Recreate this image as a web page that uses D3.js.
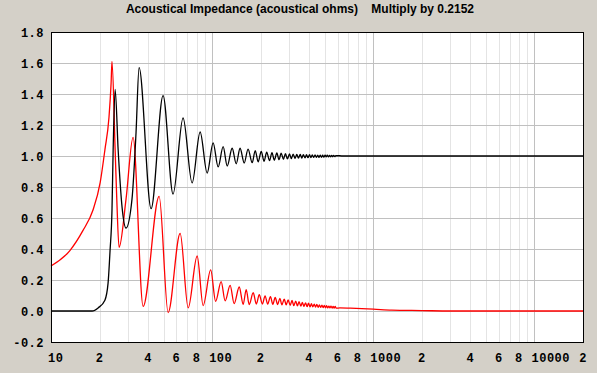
<!DOCTYPE html>
<html>
<head>
<meta charset="utf-8">
<script src="https://cdn.jsdelivr.net/npm/d3@7"></script>
<style>
  body { margin: 0; background: #d4d0c8; }
  svg { display: block; }
</style>
</head>
<body>
<div class="canvas"></div>
<script>
const title = 'Acoustical Impedance (acoustical ohms)    Multiply by 0.2152';

// [frequency Hz, value]
const resistance = [
  [10, 0], [15, 0], [18, 0], [19.6, 0.02], [21.6, 0.07], [22.6, 0.18], [23.25, 0.39],
  [23.9, 0.65], [24.3, 1.04], [25.0, 1.43], [26.1, 1.04], [27.6, 0.67], [29.2, 0.535],
  [31.8, 0.72], [33.7, 1.15], [35.2, 1.57], [41.8, 0.66], [49.6, 1.39], [57.2, 0.755],
  [66.0, 1.245], [75.1, 0.826], [84.2, 1.155], [93.1, 0.89], [101.4, 1.085], [108.9, 0.93],
  [117, 1.06], [124, 0.935], [133.1, 1.05], [141, 0.95], [149, 1.05], [158.1, 0.955],
  [167, 1.045], [177.2, 0.957], [185, 1.035], [193, 0.962], [201.5, 1.03], [210, 0.966],
  [218, 1.025], [227, 0.97], [235, 1.022], [243, 0.973], [252, 1.02], [260, 0.976],
  [268, 1.018], [277, 0.979], [285, 1.015], [293, 0.981], [302, 1.013], [310, 0.983],
  [318, 1.012], [327, 0.985], [335, 1.011], [343, 0.986], [352, 1.01], [360, 0.987],
  [368, 1.009], [377, 0.988], [385, 1.008], [393, 0.989], [402, 1.008], [410, 0.99],
  [418, 1.007], [427, 0.991], [435, 1.007], [443, 0.991], [452, 1.006], [460, 0.992],
  [468, 1.006], [477, 0.992], [485, 1.005], [493, 0.993], [502, 1.005], [510, 0.994],
  [518, 1.005], [527, 0.994], [535, 1.004], [543, 0.995], [552, 1.004], [560, 0.995],
  [568, 1.004], [577, 0.996], [585, 1.003], [650, 1.0], [1000, 1.0], [20000, 1.0]
];

const reactance = [
  [10, 0.29], [13.1, 0.39], [15.8, 0.52], [18.2, 0.65], [20.2, 0.83], [21.6, 1.04],
  [22.9, 1.25], [23.6, 1.47], [23.9, 1.61], [25.0, 1.04], [25.6, 0.72], [26.45, 0.41],
  [29.2, 0.72], [32.3, 1.12], [37.3, 0.03], [46.9, 0.74], [53.3, -0.01], [63.3, 0.5],
  [71.0, 0.02], [80.7, 0.355], [87.9, 0.035], [97.9, 0.265], [105.1, 0.062], [113.7, 0.19],
  [120.4, 0.065], [129.3, 0.165], [136.9, 0.048], [147.2, 0.155], [155.8, 0.043],
  [162.6, 0.138], [169.8, 0.042], [179.8, 0.118], [188, 0.045], [196, 0.105], [205, 0.045],
  [213, 0.098], [221, 0.044], [230, 0.092], [238, 0.043], [246, 0.087], [255, 0.042],
  [263, 0.082], [271, 0.04], [280, 0.077], [288, 0.039], [296, 0.072], [305, 0.037],
  [313, 0.068], [321, 0.035], [330, 0.064], [338, 0.033], [346, 0.06], [355, 0.031],
  [363, 0.056], [371, 0.03], [380, 0.053], [388, 0.028], [396, 0.05], [405, 0.027],
  [413, 0.047], [421, 0.026], [430, 0.044], [438, 0.025], [446, 0.042], [455, 0.024],
  [463, 0.04], [471, 0.023], [480, 0.038], [488, 0.022], [496, 0.036], [505, 0.021],
  [513, 0.034], [521, 0.02], [530, 0.032], [538, 0.02], [546, 0.031], [555, 0.019],
  [563, 0.03], [571, 0.018], [580, 0.029], [588, 0.018], [620, 0.02], [720, 0.018],
  [1000, 0.012], [1300, 0.006], [2000, 0.003], [3000, 0], [20000, 0]
];

const yTicks = [-0.2, 0, 0.2, 0.4, 0.6, 0.8, 1.0, 1.2, 1.4, 1.6, 1.8];
const xTicks = [10, 20, 40, 60, 80, 100, 200, 400, 600, 800, 1000, 2000, 4000, 6000, 8000, 10000, 20000];
const xTickLabels = ['10', '2', '4', '6', '8', '100', '2', '4', '6', '8', '1000', '2', '4', '6', '8', '10000', '2'];

const width = 597, height = 373;
const plot = { left: 51, right: 583, top: 32, bottom: 342 };

const svg = d3.select('.canvas')
  .append('svg')
  .attr('width', width)
  .attr('height', height);

const x = d3.scaleLog().domain([10, 20000]).range([plot.left, plot.right]);
const y = d3.scaleLinear().domain([-0.2, 1.8]).range([plot.bottom, plot.top]);

svg.append('rect')
  .attr('x', plot.left).attr('y', plot.top)
  .attr('width', plot.right - plot.left).attr('height', plot.bottom - plot.top)
  .attr('fill', '#fff');

// vertical grid: every 1..9 of each decade
const minor = [];
for (let d = 10; d < 20000; d *= 10) {
  for (let k = 1; k < 10; k++) if (d * k <= 20000) minor.push(d * k);
}
svg.append('g').selectAll('line')
  .data(minor)
  .enter().append('line')
    .attr('x1', d => Math.round(x(d)) + 0.5).attr('x2', d => Math.round(x(d)) + 0.5)
    .attr('y1', plot.top).attr('y2', plot.bottom)
    .attr('stroke', d => (Math.log10(d) % 1 === 0) ? '#c0c0c0' : '#e4e4e4')
    .attr('stroke-width', 1);

// horizontal grid
svg.append('g').selectAll('line')
  .data(yTicks)
  .enter().append('line')
    .attr('x1', plot.left).attr('x2', plot.right)
    .attr('y1', d => Math.round(y(d)) + 0.5).attr('y2', d => Math.round(y(d)) + 0.5)
    .attr('stroke', '#c0c0c0');

// curves
const line = d3.line()
  .x(d => x(d[0]))
  .y(d => y(d[1]))
  .curve(d3.curveMonotoneX);

svg.append('path')
  .datum(reactance)
  .attr('d', line)
  .attr('fill', 'none')
  .attr('stroke', '#ff0000')
  .attr('stroke-width', 1.3);

svg.append('path')
  .datum(resistance)
  .attr('d', line)
  .attr('fill', 'none')
  .attr('stroke', '#000')
  .attr('stroke-width', 1.3);

// frame
svg.append('rect')
  .attr('x', plot.left + 0.5).attr('y', plot.top + 0.5)
  .attr('width', plot.right - plot.left).attr('height', plot.bottom - plot.top)
  .attr('fill', 'none')
  .attr('stroke', '#000');

// axis labels
const labelFont = "'Liberation Mono', 'DejaVu Sans Mono', monospace";

svg.append('g').selectAll('text')
  .data(yTicks)
  .enter().append('text')
    .attr('x', 44)
    .attr('y', d => y(d) + 4.5)
    .attr('text-anchor', 'end')
    .attr('font-family', labelFont)
    .attr('font-weight', 'bold')
    .attr('font-size', 12)
    .attr('letter-spacing', 0.5)
    .text(d => d.toFixed(1));

svg.append('g').selectAll('text')
  .data(xTicks)
  .enter().append('text')
    .attr('x', (d, i) => xTickLabels[i].length > 1 ? x(d) - 3 : x(d))
    .attr('y', 362)
    .attr('text-anchor', (d, i) => xTickLabels[i].length > 1 ? 'start' : 'middle')
    .attr('font-family', labelFont)
    .attr('font-weight', 'bold')
    .attr('font-size', 12)
    .attr('letter-spacing', 0.5)
    .text((d, i) => xTickLabels[i]);

svg.append('text')
  .attr('x', 300)
  .attr('y', 13)
  .attr('text-anchor', 'middle')
  .attr('font-family', "'Liberation Sans', Arial, sans-serif")
  .attr('font-weight', 'bold')
  .attr('font-size', 12)
  .style('white-space', 'pre')
  .text(title);
</script>
</body>
</html>
